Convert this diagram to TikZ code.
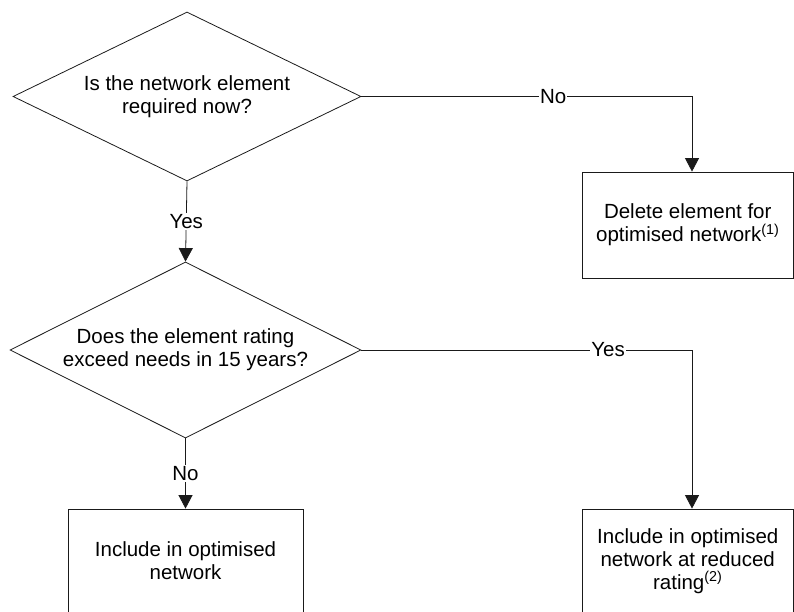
\documentclass[tikz,border=0pt]{standalone}
\usepackage{fontspec}
\setmainfont{Liberation Sans}
\usetikzlibrary{arrows.meta,shapes.geometric,calc}
\definecolor{cline}{HTML}{1A1A1A}

\begin{document}
\begin{tikzpicture}[
  x=1pt, y=-1pt,
  font=\fontsize{20.5}{23}\selectfont,
  query/.style={draw=cline, shape=diamond, aspect=2.06, inner sep=0pt,
                align=center, line width=0.8pt},
  box/.style={draw=cline, rectangle, align=center, line width=0.8pt},
  ar/.style={-{Triangle[length=13.5pt, width=14pt]}, draw=cline, line width=0.8pt},
  lbl/.style={fill=white, inner sep=1pt},
]
\useasboundingbox (0,0) rectangle (794,612);
\clip (0,0) rectangle (794,612);

%% ---------- decisions ----------
\node[query, minimum width=348pt, minimum height=169pt] (now) at (187,96.5)
  {Is the network element\\required now?};
\node[query, minimum width=351pt, minimum height=176pt] (rate) at (185.5,350)
  {Does the element rating\\exceed needs in 15 years?};

%% ---------- outcomes ----------
\node[box, minimum width=211.5pt, minimum height=106pt] (del) at (687.75,225)
  {Delete element for\\optimised network\textsuperscript{(1)}};
\node[box, minimum width=235pt, minimum height=104pt] (keep) at (185.5,561)
  {Include in optimised\\network};
\node[box, minimum width=211.5pt, minimum height=104pt] (red) at (687.75,561)
  {Include in optimised\\network at reduced\\rating\textsuperscript{(2)}};

%% ---------- connectors ----------
\draw[ar] (now.east) -| node[lbl, pos=0.29] {No} ($(del.north)+(4.25,0)$);
\draw[ar] (now.south) -- node[lbl] {Yes} (rate.north);
\draw[ar] (rate.east) -| node[lbl, pos=0.373] {Yes} ($(red.north)+(4.25,0)$);
\draw[ar] (rate.south) -- node[lbl] {No} (keep.north);

\end{tikzpicture}
\end{document}
